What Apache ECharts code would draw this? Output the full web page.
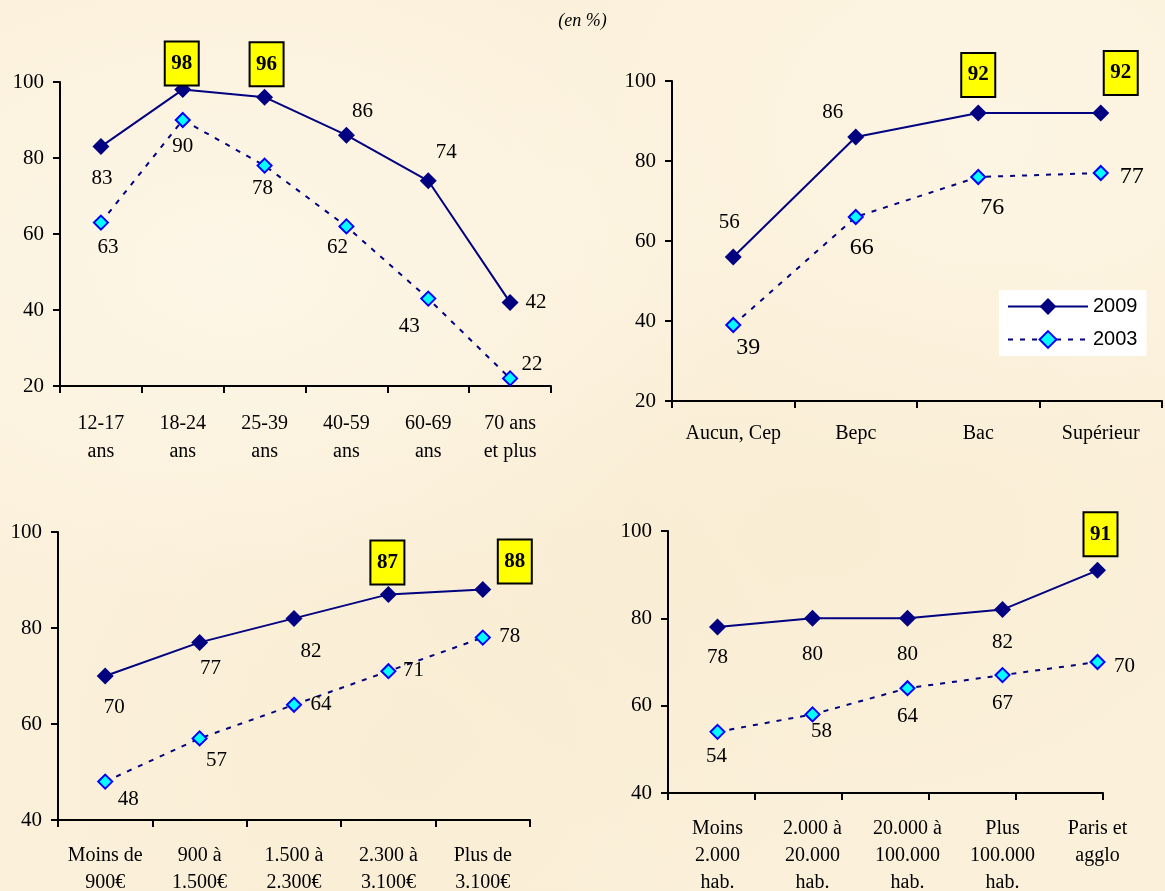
<!DOCTYPE html>
<html>
<head>
<meta charset="utf-8">
<script src="https://cdn.jsdelivr.net/npm/echarts@6/dist/echarts.min.js"></script>
<style>
html,body{margin:0;padding:0;}
body{background:#fbf0da;
background-image:
 radial-gradient(ellipse at 20% 30%, rgba(255,251,240,0.6) 0, rgba(255,251,240,0) 40%),
 radial-gradient(ellipse at 70% 60%, rgba(246,232,200,0.3) 0, rgba(246,232,200,0) 45%),
 radial-gradient(ellipse at 85% 15%, rgba(255,250,236,0.5) 0, rgba(255,250,236,0) 35%),
 radial-gradient(ellipse at 35% 85%, rgba(246,232,202,0.3) 0, rgba(246,232,202,0) 40%);}
#c{width:1165px;height:891px;}
</style>
</head>
<body>
<div id="c"></div>
<script>
// ---- Data ----
const ageCats = ['12-17\nans', '18-24\nans', '25-39\nans', '40-59\nans', '60-69\nans', '70 ans\net plus'];
const age2009 = [83, 98, 96, 86, 74, 42];
const age2003 = [63, 90, 78, 62, 43, 22];

const dipCats = ['Aucun, Cep', 'Bepc', 'Bac', 'Supérieur'];
const dip2009 = [56, 86, 92, 92];
const dip2003 = [39, 66, 76, 77];

const revCats = ['Moins de\n900€', '900 à\n1.500€', '1.500 à\n2.300€', '2.300 à\n3.100€', 'Plus de\n3.100€'];
const rev2009 = [70, 77, 82, 87, 88];
const rev2003 = [48, 57, 64, 71, 78];

const aggCats = ['Moins\n2.000\nhab.', '2.000 à\n20.000\nhab.', '20.000 à\n100.000\nhab.', 'Plus\n100.000\nhab.', 'Paris et\nagglo'];
const agg2009 = [78, 80, 80, 82, 91];
const agg2003 = [54, 58, 64, 67, 70];

const yTicksTop1 = [20, 100, 20];   // min, max, interval
const yTicksTop2 = [20, 100, 20];
const yTicksBot1 = [40, 100, 20];
const yTicksBot2 = [40, 100, 20];

// ---- Styling: which points are boxed, label offsets ----
const boxAge = [1, 2], boxDip = [2, 3], boxRev = [3, 4], boxAgg = [4];
const offAge09 = [[1,32],[-1,-26],[2,-33],[16,-24],[18,-28],[26,0]];
const offAge03 = [[7,25],[0,26],[-2,23],[-9,21],[-19,28],[22,-14]];
const offDip09 = [[-4,-35],[-23,-25],[0,-38],[20,-40]];
const offDip03 = [[15,23],[6,31],[14,31],[31,4]];
const offRev09 = [[9,31],[11,26],[17,33],[-1,-32],[32,-28]];
const offRev03 = [[23,18],[17,22],[27,0],[25,-1],[27,-1]];
const offAgg09 = [[0,30],[0,36],[0,36],[0,33],[3,-36]];
const offAgg03 = [[-1,25],[9,17],[0,28],[0,28],[27,4]];

const SERIF = "'Liberation Serif','Times New Roman',serif";
const NAVY = '#000080';

function items(vals, offs, boxed, fs) {
  return vals.map((v, i) => {
    const isBox = boxed.indexOf(i) >= 0;
    const lab = isBox ? {
      show: true, position: 'inside', offset: offs[i],
      backgroundColor: '#ffff00', borderColor: '#000', borderWidth: 2,
      width: 32, height: 42, lineHeight: 42, align: 'center', verticalAlign: 'middle',
      fontFamily: SERIF, fontWeight: 'bold', fontSize: 21, color: '#000'
    } : {
      show: true, position: 'inside', offset: offs[i],
      fontFamily: SERIF, fontSize: fs, color: '#000'
    };
    return { value: v, label: lab };
  });
}

function s09(vals, offs, boxed, xi, fs) {
  return {
    name: '2009', type: 'line', xAxisIndex: xi, yAxisIndex: xi,
    data: items(vals, offs, boxed, fs || 21),
    symbol: 'diamond', symbolSize: 17,
    itemStyle: { color: NAVY, borderColor: NAVY, borderWidth: 0 },
    lineStyle: { color: NAVY, width: 2 },
    z: 3
  };
}
function s03(vals, offs, xi, fs) {
  return {
    name: '2003', type: 'line', xAxisIndex: xi, yAxisIndex: xi,
    data: items(vals, offs, [], fs || 21),
    symbol: 'diamond', symbolSize: 14,
    itemStyle: { color: '#00ffff', borderColor: '#0000ff', borderWidth: 2 },
    lineStyle: { color: NAVY, width: 2, type: [5, 7] },
    z: 2
  };
}

function xAx(gi, cats, margin, opts) {
  return Object.assign({
    type: 'category', gridIndex: gi, data: cats, boundaryGap: true,
    axisLine: { show: true, lineStyle: { color: '#000', width: 2 } },
    axisTick: { show: true, length: 7, inside: false, lineStyle: { color: '#000', width: 2 } },
    axisLabel: { interval: 0, margin: margin, fontFamily: SERIF, fontSize: 20, color: '#000', lineHeight: 27 },
    splitLine: { show: false }
  }, opts || {});
}
function yAx(gi, t, opts) {
  return Object.assign({
    type: 'value', gridIndex: gi, min: t[0], max: t[1], interval: t[2],
    axisLine: { show: true, lineStyle: { color: '#000', width: 2 } },
    axisTick: { show: true, length: 7, lineStyle: { color: '#000', width: 2 } },
    axisLabel: { margin: 16, fontFamily: SERIF, fontSize: 21, color: '#000' },
    splitLine: { show: false }
  }, opts || {});
}

const G = (l, t, w, h) => ({ left: l, top: t, width: w, height: h, containLabel: false, outerBoundsMode: 'none' });

const option = {
  animation: false,
  backgroundColor: 'transparent',
  title: {
    text: '(en %)', left: 'center', top: 7,
    textStyle: { fontFamily: SERIF, fontStyle: 'italic', fontWeight: 'normal', fontSize: 18, color: '#000' }
  },
  legend: {
    data: ['2009', '2003'], orient: 'vertical', left: 999, top: 290,
    backgroundColor: '#ffffff', padding: [6, 9, 6, 8], itemGap: 12,
    itemWidth: 80, itemHeight: 21,
    textStyle: { fontFamily: "'Liberation Sans', Arial, sans-serif", fontSize: 20, color: '#000', lineHeight: 21 }
  },
  grid: [
    G(60, 82, 491, 304),
    G(672, 81, 490, 320),
    G(58, 532, 472, 288),
    G(670, 531, 475, 262),
    G(668, 531, 435, 262)
  ],
  xAxis: [
    xAx(0, ageCats, 24, { axisLabel: { interval: 0, margin: 24, fontFamily: SERIF, fontSize: 20, color: '#000', lineHeight: 28 } }),
    xAx(1, dipCats, 19),
    xAx(2, revCats, 22),
    xAx(3, aggCats, 22, { axisLine: { show: false }, axisTick: { show: false } }),
    xAx(4, aggCats, 22, { axisLabel: { show: false } })
  ],
  yAxis: [
    yAx(0, yTicksTop1),
    yAx(1, yTicksTop2),
    yAx(2, yTicksBot1),
    yAx(3, yTicksBot2, { show: false }),
    yAx(4, yTicksBot2)
  ],
  series: [
    s03(age2003, offAge03, 0), s09(age2009, offAge09, boxAge, 0),
    s03(dip2003, offDip03, 1, 24), s09(dip2009, offDip09, boxDip, 1),
    s03(rev2003, offRev03, 2), s09(rev2009, offRev09, boxRev, 2),
    s03(agg2003, offAgg03, 3), s09(agg2009, offAgg09, boxAgg, 3)
  ]
};

const chart = echarts.init(document.getElementById('c'), null, { renderer: 'canvas' });
chart.setOption(option);
</script>
</body>
</html>
